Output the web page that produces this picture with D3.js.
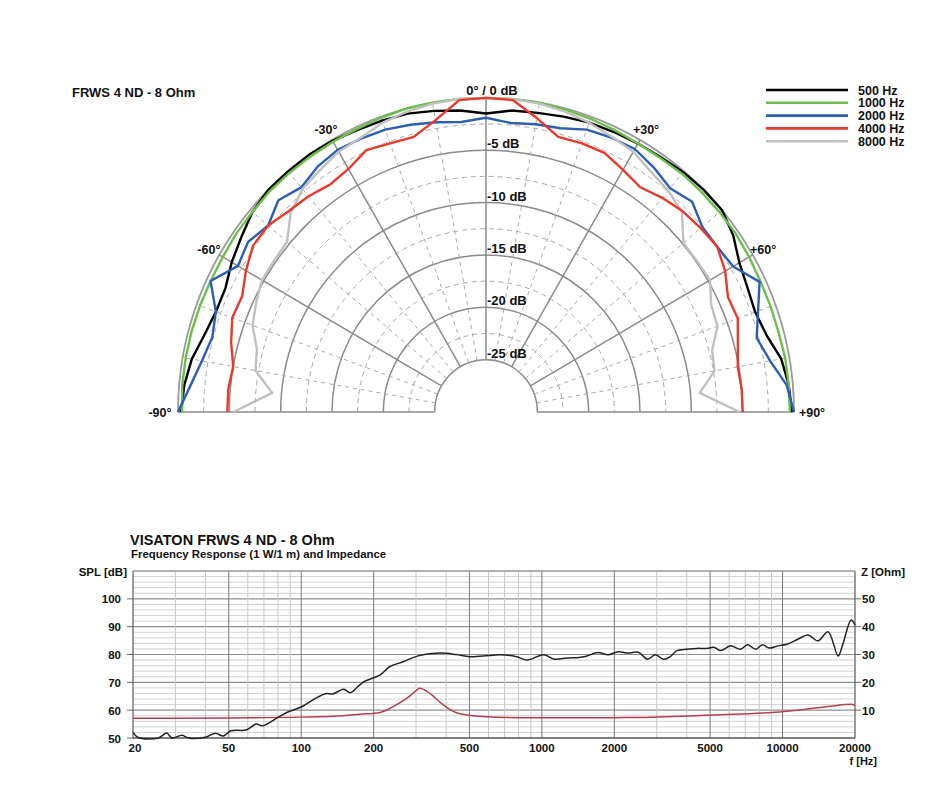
<!DOCTYPE html>
<html><head><meta charset="utf-8">
<script src="https://cdn.jsdelivr.net/npm/d3@7"></script>
<style>
body{margin:0;background:#fff;}
text{font-family:"Liberation Sans",Arial,Helvetica,sans-serif;font-weight:bold;fill:#111;}
</style></head><body>
<svg id="c" width="946" height="786"></svg>
<script>
// ---------- Polar data ----------
const angles = [-90,-85,-80,-75,-70,-65,-60,-55,-50,-45,-40,-35,-30,-25,-20,-15,-10,-5,0,5,10,15,20,25,30,35,40,45,50,55,60,65,70,75,80,85,90];
const db500  = [-0.3,-0.5,-0.9,-1.6,-2.0,-2.0,-1.4,-0.9,-0.3,0,0,0,-0.1,-0.3,-0.4,-0.5,-0.8,-1.1,-1.5,-1.1,-1.0,-0.8,-0.6,-0.5,-0.4,-0.3,-0.1,0,0,-0.6,-1.5,-1.9,-2.1,-1.7,-0.8,-0.4,-0.2];
const db1000 = [-0.4,-0.3,-0.3,-0.3,-0.35,-0.4,-0.4,-0.3,-0.3,-0.2,-0.2,-0.2,-0.2,-0.2,-0.1,0,0,0,0,0,0,-0.1,-0.2,-0.3,-0.4,-0.4,-0.3,-0.3,-0.3,-0.3,-0.4,-0.5,-0.5,-0.5,-0.4,-0.4,-0.4];
const db2000 = [0,-1.1,-1.9,-2.4,-2.0,-0.4,-2.1,-1.7,-2.3,-1.4,-2.0,-1.4,-1.1,-1.2,-1.3,-1.6,-1.9,-2.2,-1.9,-2.3,-2.1,-1.95,-1.3,-1.1,-1.0,-1.5,-2.1,-1.6,-2.5,-2.5,-2.2,-0.6,-1.8,-2.7,-1.9,-0.6,0];
const db4000 = [-4.8,-4.8,-5.0,-4.3,-3.7,-3.8,-3.0,-2.3,-2.3,-2.85,-3.1,-3.5,-3.2,-2.4,-2.7,-2.8,-1.7,-0.1,0,-0.1,-1.5,-2.8,-2.7,-2.7,-3.3,-3.8,-3.3,-2.9,-2.7,-2.5,-3.1,-4.0,-3.9,-4.6,-5.1,-5.0,-5.0];
const db8000 = [-5.4,-9.1,-7.2,-6.9,-5.8,-5.3,-4.8,-4.8,-4.7,-3.1,-2.2,-1.8,-1.3,-1.1,-0.6,-0.3,-0.1,0,0,0,-0.1,-0.3,-0.6,-1.0,-1.3,-2.0,-2.4,-3.0,-4.9,-4.9,-4.8,-5.8,-6.0,-7.2,-7.4,-9.1,-5.3];
const legendLabels = ["500 Hz","1000 Hz","2000 Hz","4000 Hz","8000 Hz"];
const legendColors = ["#000000","#6cbf4a","#2b5fb4","#e8392b","#c0c0c0"];
const dbRingLabels = [-5,-10,-15,-20,-25];
const angleLabels = [-90,-60,-30,30,60,90];

// ---------- Frequency response data ----------
const splFreq = [20,21,25.5,27.6,29,32,34,40,44,47.5,51,59,65,69,81,89,101,115,127,135,150,160,172,183,213,233,265,306,377,440,502,600,670,785,867,1018,1120,1277,1500,1710,1885,2075,2285,2515,2750,2960,3200,3410,3640,4010,4410,4860,5180,5530,6080,6690,7140,7740,8250,8800,9540,10510,11580,12750,14040,15460,17020,17850,19270,20000];
const splDb   = [52,50.2,50,51.8,50,51,50,50.3,51.7,50.7,52.6,52.9,55,54.4,57.7,59.5,61.3,64.3,66,65.8,67.5,66.3,68.5,70.3,72.7,75.6,77.4,79.5,80.5,80,79.2,79.6,79.9,79.2,78,79.9,78.4,78.7,79.2,80.7,79.9,81,80.5,80.8,78.3,79.9,78.3,79.2,81.4,81.9,82.2,82.2,82.6,81.4,83.1,81.9,83.5,81.9,83.5,82.3,83.1,83.8,85.5,87,84.9,88.2,79.5,84,92.4,90.6];
const zFreq = [20,50,100,150,174,213,241,275,303,311,341,389,448,571,785,1200,2000,2550,5100,10200,15460,19270,20000];
const zOhm  = [7.1,7.2,7.5,8.0,8.5,9.2,11.3,14.3,17.3,17.9,16.1,11.9,8.9,7.7,7.3,7.25,7.3,7.4,8.3,9.5,11.3,12.1,11.6];
const xTickVals = [20,50,100,200,500,1000,2000,5000,10000,20000];
const splTicks = [50,60,70,80,90,100];
const zTicks = [10,20,30,40,50];

const svg = d3.select("#c");

// ================= POLAR =================
const cx = 486, cy = 412, ky = 1.02;
const r = d3.scaleLinear().domain([-30,0]).range([0,308]);
const rad = a => a*Math.PI/180;
const pg = svg.append("g").attr("transform",`translate(${cx},${cy}) scale(1,${ky})`);

// rings
d3.range(-25, 0.01, 2.5).forEach(v=>{
  const major = Math.abs(v % 5) < 1e-9;
  const p = d3.path(); p.arc(0,0,r(v),Math.PI,2*Math.PI);
  pg.append("path").attr("d",p.toString()).attr("fill","none")
    .attr("stroke", v===0 ? "#9a9a9a" : (major?"#8a8a8a":"#a8a8a8"))
    .attr("stroke-width", v===0?1.8:(major?1.5:1))
    .attr("stroke-dasharray", major?null:"5,4")
    .attr("vector-effect","non-scaling-stroke");
});
// radial lines
d3.range(-90,91,10).forEach(a=>{
  const major = a%30===0;
  const r0 = r(-25), r1 = r(0);
  pg.append("line")
    .attr("x1", r0*Math.sin(rad(a))).attr("y1", -r0*Math.cos(rad(a)))
    .attr("x2", r1*Math.sin(rad(a))).attr("y2", -r1*Math.cos(rad(a)))
    .attr("stroke", major?"#8a8a8a":"#a8a8a8")
    .attr("stroke-width", major?1.5:1)
    .attr("stroke-dasharray", major?null:"4,4")
    .attr("vector-effect","non-scaling-stroke");
});
// curves
const series = [db500, db1000, db2000, db8000, db4000];
const seriesColors = [legendColors[0],legendColors[1],legendColors[2],legendColors[4],legendColors[3]];
const radial = d3.lineRadial().angle(d=>rad(d[0])).radius(d=>r(d[1]));
series.forEach((s,i)=>{
  pg.append("path").attr("d", radial(angles.map((a,j)=>[a,s[j]])))
    .attr("fill","none").attr("stroke",seriesColors[i]).attr("stroke-width",2.4)
    .attr("stroke-linejoin","round")
    .attr("vector-effect","non-scaling-stroke");
});
// dB labels
dbRingLabels.forEach(v=>{
  svg.append("text").attr("x",cx+1).attr("y",cy - r(v)*ky - 2)
    .attr("font-size",13).text(`${v} dB`);
});
svg.append("text").attr("x",cx+6).attr("y",cy - r(0)*ky - 3).attr("text-anchor","middle")
  .attr("font-size",13).text("0° / 0 dB");
angleLabels.forEach(a=>{
  const rr = Math.abs(a)===90 ? 326 : 320;
  const x = cx + rr*Math.sin(rad(a));
  const y = cy - rr*Math.cos(rad(a))*ky + 5;
  svg.append("text").attr("x",x).attr("y",y).attr("text-anchor","middle")
    .attr("font-size",12.5).text((a>0?"+":"")+a+"°");
});
svg.append("text").attr("x",72).attr("y",97).attr("font-size",13).text("FRWS 4 ND - 8 Ohm");
// legend
legendLabels.forEach((l,i)=>{
  const y = 90 + i*12.8;
  svg.append("line").attr("x1",766).attr("x2",848).attr("y1",y).attr("y2",y)
    .attr("stroke",legendColors[i]).attr("stroke-width",2.6);
  svg.append("text").attr("x",858).attr("y",y+4.5).attr("font-size",12.5).text(l);
});

// ================= FREQUENCY RESPONSE =================
const x = d3.scaleLog().domain([20,20000]).range([133,855]);
const yS = d3.scaleLinear().domain([50,110]).range([738,571]);
const yZ = d3.scaleLinear().domain([0,60]).range([738,571]);
const fg = svg.append("g");
// horizontal grid
d3.range(52,111,2).forEach(v=>{
  const major = v%10===0;
  fg.append("line").attr("x1",x(20)).attr("x2",x(20000)).attr("y1",yS(v)).attr("y2",yS(v))
    .attr("stroke", major?"#8f8f8f":"#d2d2d2").attr("stroke-width", major?1.2:1);
});
// vertical grid
const vlines = [];
[10,100,1000,10000].forEach(dec=>{ for(let k=1;k<10;k++){ const f=dec*k; if(f>20 && f<20000) vlines.push(f);} });
vlines.forEach(f=>{
  const lead = Math.round(f/Math.pow(10,Math.floor(Math.log10(f)+1e-9)));
  const major = lead===1||lead===2||lead===5;
  fg.append("line").attr("x1",x(f)).attr("x2",x(f)).attr("y1",yS(110)).attr("y2",yS(50))
    .attr("stroke", major?"#7a7a7a":"#c8c8c8").attr("stroke-width", 1);
});
// frame
fg.append("line").attr("x1",x(20)).attr("x2",x(20)).attr("y1",yS(110)).attr("y2",yS(50)).attr("stroke","#666").attr("stroke-width",1.3);
fg.append("line").attr("x1",x(20000)).attr("x2",x(20000)).attr("y1",yS(110)).attr("y2",yS(50)).attr("stroke","#666").attr("stroke-width",1.3);
fg.append("line").attr("x1",x(20)).attr("x2",x(20000)).attr("y1",yS(50)).attr("y2",yS(50)).attr("stroke","#555").attr("stroke-width",1.3);
fg.append("line").attr("x1",x(20)).attr("x2",x(20000)).attr("y1",yS(110)).attr("y2",yS(110)).attr("stroke","#999").attr("stroke-width",1);
// ticks and labels
splTicks.forEach(v=>{
  fg.append("line").attr("x1",x(20)-6).attr("x2",x(20)).attr("y1",yS(v)).attr("y2",yS(v)).attr("stroke","#666");
  fg.append("text").attr("x",121).attr("y",yS(v)+4.5).attr("text-anchor","end").attr("font-size",11.5).text(v);
});
zTicks.forEach(v=>{
  fg.append("line").attr("x1",x(20000)).attr("x2",x(20000)+6).attr("y1",yZ(v)).attr("y2",yZ(v)).attr("stroke","#666");
  fg.append("text").attr("x",862).attr("y",yZ(v)+4.5).attr("font-size",11.5).text(v);
});
xTickVals.forEach(f=>{
  fg.append("text").attr("x",x(f)+ (f===20?2:0)).attr("y",752).attr("text-anchor","middle").attr("font-size",11.5).text(f);
});
fg.append("text").attr("x",127).attr("y",576).attr("text-anchor","end").attr("font-size",11.5).text("SPL [dB]");
fg.append("text").attr("x",861).attr("y",576).attr("font-size",11.5).text("Z [Ohm]");
fg.append("text").attr("x",877).attr("y",765).attr("text-anchor","end").attr("font-size",11).text("f [Hz]");
fg.append("text").attr("x",130).attr("y",545).attr("font-size",14.5).text("VISATON FRWS 4 ND - 8 Ohm");
fg.append("text").attr("x",131).attr("y",558).attr("font-size",11.4).text("Frequency Response (1 W/1 m) and Impedance");
// curves
const lineS = d3.line().x(d=>x(d[0])).y(d=>yS(d[1])).curve(d3.curveCatmullRom.alpha(0.5));
const lineZ = d3.line().x(d=>x(d[0])).y(d=>yZ(d[1])).curve(d3.curveMonotoneX);
fg.append("path").attr("d",lineZ(zFreq.map((f,i)=>[f,zOhm[i]]))).attr("fill","none").attr("stroke","#b4404c").attr("stroke-width",1.5);
fg.append("path").attr("d",lineS(splFreq.map((f,i)=>[f,splDb[i]]))).attr("fill","none").attr("stroke","#222").attr("stroke-width",1.5);
</script>
</body></html>
